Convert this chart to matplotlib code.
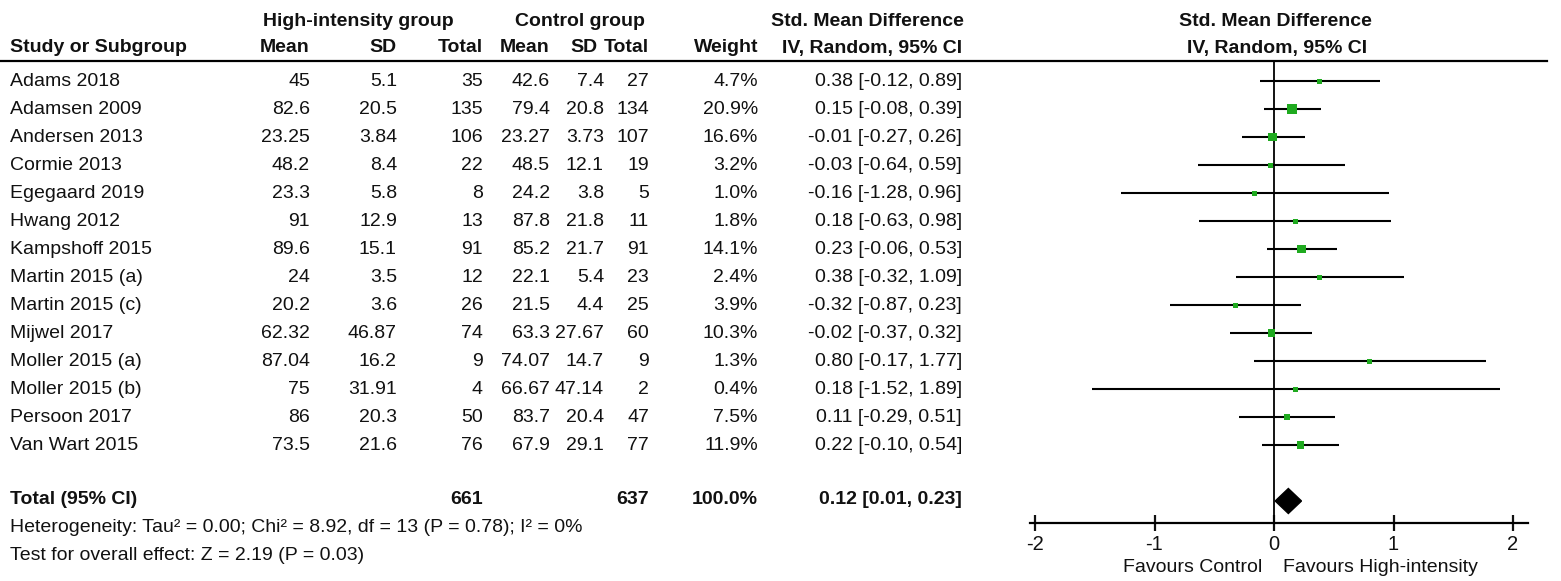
import matplotlib
matplotlib.use("Agg")
from matplotlib import pyplot as plt
import numpy as np

plt.rcParams['font.family'] = ['Liberation Sans', 'DejaVu Sans']

studies = ['Adams 2018', 'Adamsen 2009', 'Andersen 2013', 'Cormie 2013', 'Egegaard 2019',
           'Hwang 2012', 'Kampshoff 2015', 'Martin 2015 (a)', 'Martin 2015 (c)', 'Mijwel 2017',
           'Moller 2015 (a)', 'Moller 2015 (b)', 'Persoon 2017', 'Van Wart 2015']
hi_mean = ['45', '82.6', '23.25', '48.2', '23.3', '91', '89.6', '24', '20.2', '62.32', '87.04', '75', '86', '73.5']
hi_sd = ['5.1', '20.5', '3.84', '8.4', '5.8', '12.9', '15.1', '3.5', '3.6', '46.87', '16.2', '31.91', '20.3', '21.6']
hi_n = [35, 135, 106, 22, 8, 13, 91, 12, 26, 74, 9, 4, 50, 76]
ct_mean = ['42.6', '79.4', '23.27', '48.5', '24.2', '87.8', '85.2', '22.1', '21.5', '63.3', '74.07', '66.67', '83.7', '67.9']
ct_sd = ['7.4', '20.8', '3.73', '12.1', '3.8', '21.8', '21.7', '5.4', '4.4', '27.67', '14.7', '47.14', '20.4', '29.1']
ct_n = [27, 134, 107, 19, 5, 11, 91, 23, 25, 60, 9, 2, 47, 77]
weight = [4.7, 20.9, 16.6, 3.2, 1.0, 1.8, 14.1, 2.4, 3.9, 10.3, 1.3, 0.4, 7.5, 11.9]
smd = [0.38, 0.15, -0.01, -0.03, -0.16, 0.18, 0.23, 0.38, -0.32, -0.02, 0.80, 0.18, 0.11, 0.22]
ci_lo = [-0.12, -0.08, -0.27, -0.64, -1.28, -0.63, -0.06, -0.32, -0.87, -0.37, -0.17, -1.52, -0.29, -0.10]
ci_hi = [0.89, 0.39, 0.26, 0.59, 0.96, 0.98, 0.53, 1.09, 0.23, 0.32, 1.77, 1.89, 0.51, 0.54]

total_est, total_lo, total_hi = 0.12, 0.01, 0.23
xticks = [-2, -1, 0, 1, 2]

W, H = 1561, 581
fig = plt.figure(figsize=(W / 100, H / 100), dpi=100)

# table text in pixel coordinates
tab = fig.add_axes([0, 0, 1, 1])
tab.set_xlim(0, W)
tab.set_ylim(H, 0)
tab.axis('off')

fs = 14
col = '#111111'
row_y0, row_dy = 81, 28
cols_right = [310, 397, 483, 550, 604, 649, 758, 962]
head_right = [310, 397, 483, 550, 598, 649, 758, 962]

def t(x, y, s, ha='right', bold=False, size=fs):
    tab.text(x, y, s, ha=ha, va='center', fontsize=size, color=col,
             fontweight='bold' if bold else 'normal')

# headers
t(358, 22, 'High-intensity group', ha='center', bold=True)
t(580, 22, 'Control group', ha='center', bold=True)
t(867, 22, 'Std. Mean Difference', ha='center', bold=True)
t(1275, 22, 'Std. Mean Difference', ha='center', bold=True)
t(10, 48, 'Study or Subgroup', ha='left', bold=True)
for x, s in zip(head_right, ['Mean', 'SD', 'Total', 'Mean', 'SD', 'Total', 'Weight', 'IV, Random, 95% CI']):
    t(x, 48, s, bold=True)
t(1277, 48, 'IV, Random, 95% CI', ha='center', bold=True)
tab.plot([0, 1547], [61, 61], color='black', lw=1.6)

for i, name in enumerate(studies):
    y = row_y0 + row_dy * i
    t(10, y, name, ha='left')
    vals = [hi_mean[i], hi_sd[i], str(hi_n[i]), ct_mean[i], ct_sd[i], str(ct_n[i]),
            '%.1f%%' % weight[i], '%.2f [%.2f, %.2f]' % (smd[i], ci_lo[i], ci_hi[i])]
    for x, s in zip(cols_right, vals):
        t(x, y, s)

yt = row_y0 + row_dy * 15 - 1
t(10, yt, 'Total (95% CI)', ha='left', bold=True)
t(cols_right[2], yt, str(sum(hi_n)), bold=True)
t(cols_right[5], yt, str(sum(ct_n)), bold=True)
t(cols_right[6], yt, '%.1f%%' % sum(weight), bold=True)
t(cols_right[7], yt, '%.2f [%.2f, %.2f]' % (total_est, total_lo, total_hi), bold=True)
t(10, 528, 'Heterogeneity: Tau² = 0.00; Chi² = 8.92, df = 13 (P = 0.78); I² = 0%', ha='left')
t(10, 555, 'Test for overall effect: Z = 2.19 (P = 0.03)', ha='left')

# forest plot axes
px_per_unit = 119.5
x0_px = 1274
left_px, right_px = 1030, 1528
top_px, bot_px = 61, 523
fx = fig.add_axes([left_px / W, 1 - bot_px / H, (right_px - left_px) / W, (bot_px - top_px) / H])
fx.set_xlim((left_px - x0_px) / px_per_unit, (right_px - x0_px) / px_per_unit)
fx.set_ylim((bot_px - row_y0) / row_dy, (top_px - row_y0) / row_dy)
fx.patch.set_alpha(0)
for s in ['top', 'left', 'right']:
    fx.spines[s].set_visible(False)
fx.spines['bottom'].set_linewidth(1.6)
fx.set_yticks([])
fx.set_xticks(xticks)
fx.set_xticklabels([str(v) for v in xticks])
fx.tick_params(axis='x', direction='inout', length=12, width=1.6, labelsize=14.5, pad=3, colors=col)

fx.axvline(0, color='black', lw=1.3)
rows = np.arange(len(studies))
fx.hlines(rows, ci_lo, ci_hi, color='black', lw=1.5)
side_pt = np.maximum(5, 2.19 * np.sqrt(weight)) * 72 / 100
fx.scatter(smd, rows, marker='s', s=side_pt ** 2, color='#1faa1f', linewidths=0, zorder=3)

h = 12.5 / row_dy
r = 15
fx.fill([total_lo, total_est, total_hi, total_est], [r, r - h, r, r + h], color='black', zorder=3)

t(1262, 568, 'Favours Control', ha='right')
t(1283, 568, 'Favours High-intensity', ha='left')

fig.savefig('out.png', dpi=100)
